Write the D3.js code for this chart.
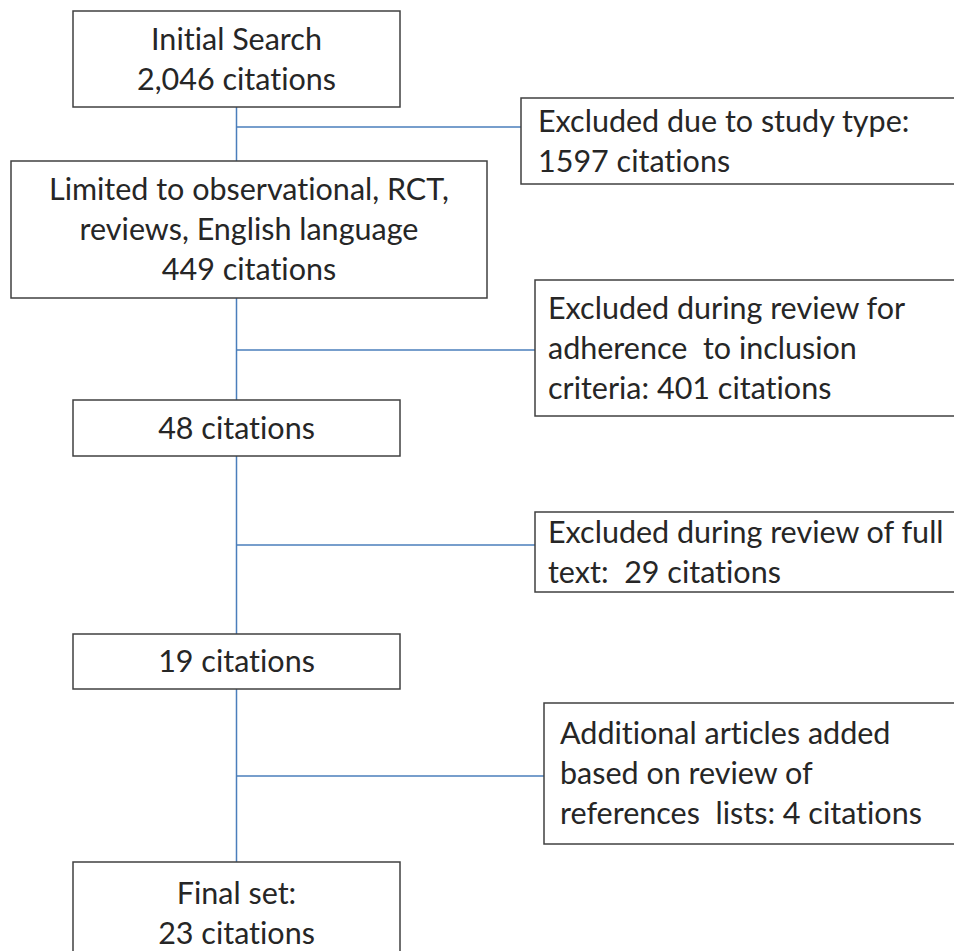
<!DOCTYPE html>
<html>
<head>
<meta charset="utf-8">
<script src="https://cdn.jsdelivr.net/npm/d3@7"></script>
<style>
  body { margin: 0; background: #fff; }
  text { font-family: Lato, "Open Sans", sans-serif; fill: #262626; white-space: pre; font-variant-ligatures: none; }
</style>
</head>
<body>
<script>
// flow of citations through the review

// main column steps (text lines per box)
var stepLabels = [
    ["Initial Search", "2,046 citations"],
    ["Limited to observational, RCT,", "reviews, English language", "449 citations"],
    ["48 citations"],
    ["19 citations"],
    ["Final set:", "23 citations"]
];
var stepCounts = [2046, 449, 48, 19, 23];

// side boxes (exclusions / additions)
var sideLabels = [
    ["Excluded due to study type:", "1597 citations"],
    ["Excluded during review for", "adherence  to inclusion", "criteria: 401 citations"],
    ["Excluded during review of full", "text:  29 citations"],
    ["Additional articles added", "based on review of", "references  lists: 4 citations"]
];
var sideCounts = [1597, 401, 29, 4];

function draw_flow() {
    var width = 954;
    var height = 951;
    var lineH = 40;
    var fontSize = 30.5;

    var svg = d3.select("body").append("svg")
                .attr("width", width)
                .attr("height", height);

    // layout of the boxes (pixels); last box runs off the bottom edge
    var mainBox = [
        {x0: 73, x1: 400, y0: 11, y1: 107, mid: 59},
        {x0: 11, x1: 487, y0: 161, y1: 298, mid: 229.5},
        {x0: 73, x1: 400, y0: 400, y1: 456, mid: 428},
        {x0: 73, x1: 400, y0: 634, y1: 689, mid: 661.5},
        {x0: 73, x1: 400, y0: 862, y1: 990, mid: 913}
    ];
    var sideBox = [
        {x0: 521, y0: 98, y1: 184, pad: 17, link: 127},
        {x0: 535, y0: 280, y1: 416, pad: 13, link: 350},
        {x0: 535, y0: 512, y1: 592, pad: 13, link: 545},
        {x0: 544, y0: 703, y1: 844, pad: 16, link: 776}
    ];
    var spineX = 236.5;

    // spine
    svg.append("line")
        .attr("x1", spineX).attr("x2", spineX)
        .attr("y1", mainBox[0].y1).attr("y2", mainBox[4].y0)
        .attr("stroke", "#4a7ebb")
        .attr("stroke-width", 1.5);

    // branches to side boxes
    svg.selectAll("line.branch")
        .data(sideBox)
        .enter()
        .append("line")
        .attr("class", "branch")
        .attr("x1", spineX)
        .attr("x2", function(d) { return d.x0; })
        .attr("y1", function(d) { return d.link; })
        .attr("y2", function(d) { return d.link; })
        .attr("stroke", "#4a7ebb")
        .attr("stroke-width", 1.5);

    // main boxes
    var mains = svg.selectAll("g.step")
        .data(stepLabels)
        .enter()
        .append("g")
        .attr("class", "step")
        .attr("data-count", function(d, i) { return stepCounts[i]; });

    mains.append("rect")
        .attr("x", function(d, i) { return mainBox[i].x0; })
        .attr("y", function(d, i) { return mainBox[i].y0; })
        .attr("width", function(d, i) { return mainBox[i].x1 - mainBox[i].x0; })
        .attr("height", function(d, i) { return mainBox[i].y1 - mainBox[i].y0; })
        .attr("fill", "#fff")
        .attr("stroke", "#404040")
        .attr("stroke-width", 1.5);

    mains.each(function(lines, i) {
        var b = mainBox[i];
        d3.select(this).selectAll("text")
            .data(lines)
            .enter()
            .append("text")
            .attr("x", (b.x0 + b.x1) / 2)
            .attr("y", function(t, j) { return b.mid + (j - (lines.length - 1) / 2) * lineH; })
            .attr("dy", "0.35em")
            .attr("text-anchor", "middle")
            .attr("font-size", fontSize)
            .text(function(t) { return t; });
    });

    // side boxes (cut off by the right edge)
    var sides = svg.selectAll("g.side")
        .data(sideLabels)
        .enter()
        .append("g")
        .attr("class", "side")
        .attr("data-count", function(d, i) { return sideCounts[i]; });

    sides.append("rect")
        .attr("x", function(d, i) { return sideBox[i].x0; })
        .attr("y", function(d, i) { return sideBox[i].y0; })
        .attr("width", function(d, i) { return width + 20 - sideBox[i].x0; })
        .attr("height", function(d, i) { return sideBox[i].y1 - sideBox[i].y0; })
        .attr("fill", "#fff")
        .attr("stroke", "#404040")
        .attr("stroke-width", 1.5);

    sides.each(function(lines, i) {
        var b = sideBox[i];
        var cy = (b.y0 + b.y1) / 2;
        d3.select(this).selectAll("text")
            .data(lines)
            .enter()
            .append("text")
            .attr("x", b.x0 + b.pad)
            .attr("y", function(t, j) { return cy + (j - (lines.length - 1) / 2) * lineH; })
            .attr("dy", "0.35em")
            .attr("font-size", fontSize)
            .text(function(t) { return t; });
    });
}

document.addEventListener("DOMContentLoaded", draw_flow());
</script>
</body>
</html>
